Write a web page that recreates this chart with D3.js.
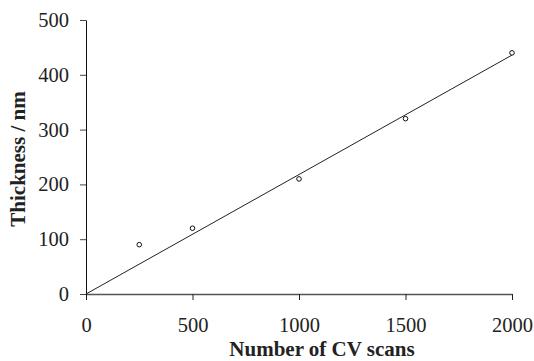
<!DOCTYPE html>
<html>
<head>
<meta charset="utf-8">
<script src="https://cdn.jsdelivr.net/npm/d3@7"></script>
<style>
  html, body { margin: 0; padding: 0; background: #fff; }
</style>
</head>
<body>
<svg id="chart" width="534" height="361"></svg>
<script>
// Film thickness measured after a number of CV scans
const scans = [250, 500, 1000, 1500, 2000];
const thickness = [90, 120, 210, 320, 440];
// Linear fit through the origin (endpoints of the fitted line)
const fitX = [0, 2000];
const fitY = [0, 436];
const xTicks = [0, 500, 1000, 1500, 2000];
const yTicks = [0, 100, 200, 300, 400, 500];

const FONT = "'Liberation Serif', 'Times New Roman', Times, serif";
const svg = d3.select("#chart");
const x = d3.scaleLinear().domain([0, 2000]).range([86, 512]);
const y = d3.scaleLinear().domain([0, 500]).range([294, 20]);

// x axis
const gx = svg.append("g").attr("transform", `translate(0,${y(0)})`)
  .call(d3.axisBottom(x).tickValues(xTicks).tickSize(6).tickSizeOuter(0).tickPadding(17).tickFormat(d3.format("d")))
  .attr("font-family", FONT).attr("font-size", 20.5);
gx.select(".domain").attr("stroke", "#555").attr("stroke-width", 1.4);
gx.selectAll(".tick line").attr("stroke", "#222");
gx.selectAll("text").attr("fill", "#222");

// y axis
const gy = svg.append("g").attr("transform", `translate(${x(0)},0)`)
  .call(d3.axisLeft(y).tickValues(yTicks).tickSize(6).tickSizeOuter(0).tickPadding(11).tickFormat(d3.format("d")))
  .attr("font-family", FONT).attr("font-size", 20.5);
gy.select(".domain").attr("stroke", "#111");
gy.selectAll(".tick line").attr("stroke", "#444");
gy.selectAll("text").attr("fill", "#222");

// fitted line
svg.append("path")
  .datum(fitX.map((v, i) => [v, fitY[i]]))
  .attr("fill", "none").attr("stroke", "#222").attr("stroke-width", 1)
  .attr("d", d3.line().x(d => x(d[0])).y(d => y(d[1])));

// measured points
svg.append("g").selectAll("circle")
  .data(scans.map((v, i) => [v, thickness[i]]))
  .join("circle")
  .attr("cx", d => x(d[0])).attr("cy", d => y(d[1])).attr("r", 2.3)
  .attr("fill", "#fff").attr("stroke", "#111").attr("stroke-width", 1);

// axis titles
svg.append("text").attr("x", 322).attr("y", 356).attr("text-anchor", "middle")
  .attr("font-family", FONT).attr("fill", "#222")
  .attr("font-size", 21).attr("font-weight", "bold").text("Number of CV scans");
svg.append("text").attr("transform", "translate(25,159) rotate(-90)").attr("text-anchor", "middle")
  .attr("font-family", FONT).attr("fill", "#222")
  .attr("font-size", 21).attr("font-weight", "bold").text("Thickness / nm");
</script>
</body>
</html>
